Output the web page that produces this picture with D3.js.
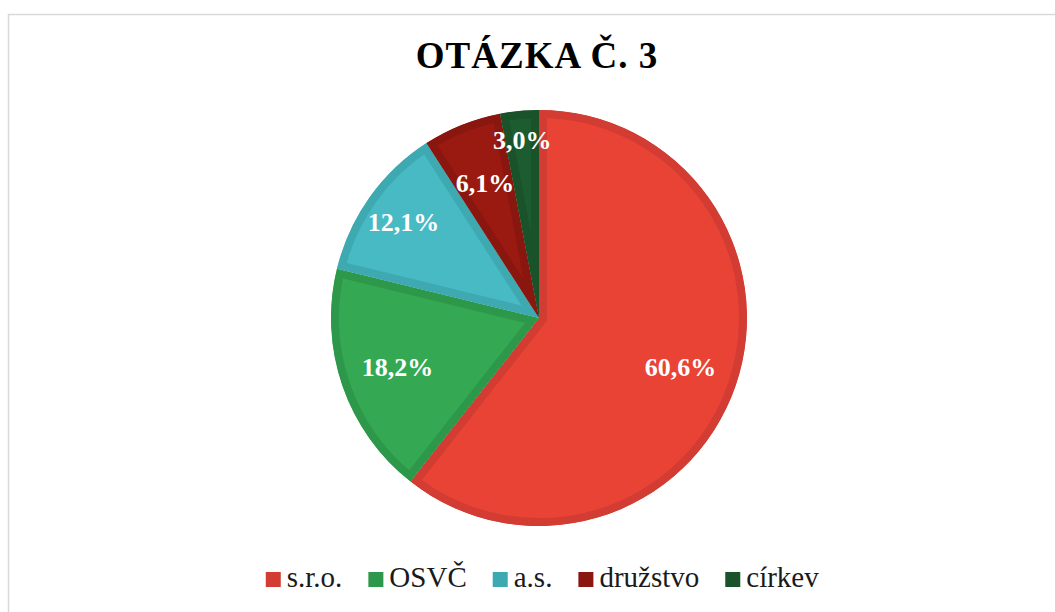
<!DOCTYPE html>
<html>
<head>
<meta charset="utf-8">
<script src="https://cdn.jsdelivr.net/npm/d3@7"></script>
<style>
  body { margin: 0; background: #fff; }
  svg { display: block; font-family: 'Liberation Serif', 'Times New Roman', serif; }
</style>
</head>
<body>
<svg id="drawing_region"></svg>
<script>
// data
const categories = ['s.r.o.', 'OSVČ', 'a.s.', 'družstvo', 'církev'];
const percents = [60.6, 18.2, 12.1, 6.1, 3.0];
const title = 'OTÁZKA Č. 3';

// styles / layout
const fills = ['#e94336', '#34a853', '#47bac4', '#9a1a11', '#1d5c2e'];
const strokes = ['#d23c33', '#2e984a', '#3fa9b2', '#8a170f', '#1a5329'];
const labelRadius = [0.72, 0.72, 0.80, 0.70, 0.86];

const width = 1055, height = 612;
const cx = 539, cy = 318, r = 208;

const svg = d3.select('#drawing_region')
    .attr('width', width)
    .attr('height', height);

// chart border
svg.append('rect')
    .attr('x', 8.5).attr('y', 14.5)
    .attr('width', 1100).attr('height', 700)
    .attr('fill', 'none')
    .attr('stroke', '#d9d9d9')
    .attr('stroke-width', 1.5);

// title
svg.append('text')
    .attr('x', 537).attr('y', 68)
    .attr('text-anchor', 'middle')
    .attr('font-weight', 'bold')
    .attr('font-size', 37)
    .style('letter-spacing', '1px')
    .attr('fill', '#000')
    .text(title);

const data = categories.map((c, i) => ({ name: c, value: percents[i], i: i }));

const pie = d3.pie().sort(null).value(d => d.value);
const arcs = pie(data);
const arc = d3.arc().innerRadius(0).outerRadius(r);

const g = svg.append('g').attr('transform', `translate(${cx},${cy})`);

// each slice keeps its border inside itself
const defs = svg.append('defs');
defs.selectAll('clipPath')
    .data(arcs)
    .enter()
    .append('clipPath')
    .attr('id', d => 'slice' + d.data.i)
    .append('path')
    .attr('d', arc);

g.selectAll('path.slice')
    .data(arcs)
    .enter()
    .append('path')
    .attr('class', 'slice')
    .attr('d', arc)
    .attr('clip-path', d => `url(#slice${d.data.i})`)
    .attr('fill', d => fills[d.data.i])
    .attr('stroke', d => strokes[d.data.i])
    .attr('stroke-width', 16)
    .attr('stroke-linejoin', 'miter');

// data labels
g.selectAll('text.lbl')
    .data(arcs)
    .enter()
    .append('text')
    .attr('class', 'lbl')
    .attr('transform', d => {
        const lr = r * labelRadius[d.data.i];
        const a = (d.startAngle + d.endAngle) / 2;
        return `translate(${Math.sin(a) * lr},${-Math.cos(a) * lr})`;
    })
    .attr('dy', '0.35em')
    .attr('text-anchor', 'middle')
    .attr('font-weight', 'bold')
    .attr('font-size', 26)
    .attr('fill', '#fff')
    .text(d => d3.format('.1f')(d.data.value).replace('.', ',') + '%');

// legend
const legend = svg.append('g');
const items = legend.selectAll('g')
    .data(data)
    .enter()
    .append('g');

items.append('rect')
    .attr('width', 15).attr('height', 15)
    .attr('y', -15)
    .attr('fill', d => strokes[d.i]);

items.append('text')
    .attr('x', 21)
    .attr('font-size', 29)
    .attr('fill', '#1a1a1a')
    .text(d => d.name);

let xpos = 0;
const gap = 26;
items.each(function () {
    const w = this.getBBox().width;
    d3.select(this).attr('transform', `translate(${xpos},0)`);
    xpos += w + gap;
});
const total = xpos - gap;
legend.attr('transform', `translate(${542.5 - total / 2},587)`);
</script>
</body>
</html>
